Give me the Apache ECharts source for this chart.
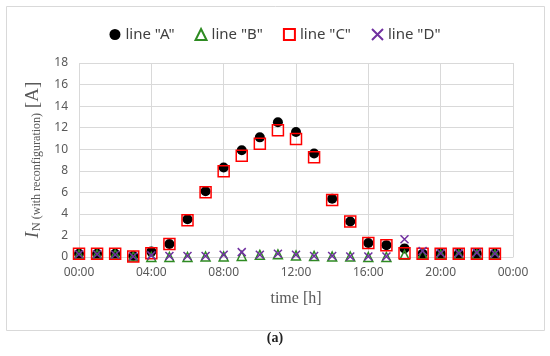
<!DOCTYPE html>
<html>
<head>
<meta charset="utf-8">
<script src="https://cdn.jsdelivr.net/npm/echarts@6/dist/echarts.min.js"></script>
<style>html,body{margin:0;padding:0;background:#fff}#c{width:550px;height:356px}</style>
</head>
<body>
<div id="c"></div>
<script>
var hours = [0,1,2,3,4,5,6,7,8,9,10,11,12,13,14,15,16,17,18,19,20,21,22,23];
var lineA = [0.3,0.3,0.3,0.1,0.5,1.2,3.5,6.1,8.3,9.9,11.1,12.5,11.6,9.6,5.4,3.3,1.3,1.1,0.8,0.3,0.3,0.3,0.3,0.3];
var lineB = [0.25,0.25,0.25,0.05,0.0,0.0,0.0,0.05,0.05,0.1,0.2,0.25,0.15,0.1,0.05,0.05,0.0,0.0,0.2,0.25,0.25,0.25,0.25,0.25];
var lineC = [0.3,0.3,0.3,0.05,0.35,1.2,3.4,6.0,7.95,9.4,10.5,11.75,10.95,9.25,5.3,3.3,1.3,1.1,0.35,0.3,0.3,0.3,0.3,0.3];
var lineD = [0.25,0.25,0.2,0.05,0.15,0.1,0.1,0.1,0.2,0.45,0.2,0.3,0.2,0.1,0.1,0.05,0.05,0.05,1.65,0.55,0.35,0.35,0.4,0.3];
var seriesNames = ['line "A"','line "B"','line "C"','line "D"'];
var xTicks = [0,4,8,12,16,20,24];
var yMax = 18, yStep = 2;

function pairs(vals){ return hours.map(function(h,i){ return [h, vals[i]]; }); }
var crossPath = 'path://M0,0L10,10M10,0L0,10';
var gray = '#595959', gridCol = '#d9d9d9';

var chart = echarts.init(document.getElementById('c'), null, {renderer:'canvas'});
chart.setOption({
  animation: false,
  backgroundColor: '#fff',
  graphic: [
    {type:'rect', shape:{x:6.5,y:6.5,width:538,height:324}, style:{fill:'none', stroke:gridCol, lineWidth:1}, z:-1},
    {type:'text', left:'center', top:331, style:{text:'(a)', font:'bold 14px "Liberation Serif", serif', fill:'#222'}}
  ],
  legend: {
    top: 22, left: 'center',
    itemWidth: 11, itemHeight: 11, itemGap: 20,
    textStyle: {color: '#404040', fontSize: 15, fontFamily: 'Noto Sans'},
    data: seriesNames
  },
  grid: {left: 79, right: 37, top: 63, bottom: 99},
  xAxis: {
    type: 'value', min: 0, max: 24, interval: 4,
    axisLine: {show: true, lineStyle: {color: gridCol}},
    axisTick: {show: false},
    splitLine: {show: true, lineStyle: {color: gridCol}},
    axisLabel: {color: gray, fontSize: 12, fontFamily: 'Noto Sans', margin: 10,
      formatter: function(v){ var h = v % 24; return (h < 10 ? '0' : '') + h + ':00'; }},
    name: 'time [h]', nameLocation: 'middle', nameGap: 34,
    nameTextStyle: {color: gray, fontSize: 16, fontFamily: '"Liberation Serif", serif'}
  },
  yAxis: {
    type: 'value', min: 0, max: yMax, interval: yStep,
    axisLine: {show: false}, axisTick: {show: false},
    splitLine: {show: true, lineStyle: {color: gridCol}},
    axisLabel: {color: gray, fontSize: 12, fontFamily: 'Noto Sans', margin: 11},
    name: '{i|I}{sub|N (with reconfiguration)}{a| [A]}',
    nameLocation: 'middle', nameGap: 36, nameRotate: 90,
    nameTextStyle: {
      color: gray,
      rich: {
        i: {fontSize: 19, fontStyle: 'italic', fontFamily: '"Liberation Serif", serif', color: gray},
        sub: {fontSize: 12, fontFamily: '"Liberation Serif", serif', color: gray, padding: [8,0,0,1]},
        a: {fontSize: 19, fontFamily: '"Liberation Serif", serif', color: gray}
      }
    }
  },
  series: [
    {name: seriesNames[0], type: 'scatter', data: pairs(lineA), symbol: 'circle', symbolSize: 10,
     itemStyle: {color: '#000', opacity: 1}},
    {name: seriesNames[1], type: 'scatter', data: pairs(lineB), symbol: 'triangle', symbolSize: 9,
     itemStyle: {color: 'rgba(0,0,0,0)', borderColor: '#2e8b22', borderWidth: 1.5, opacity: 1}},
    {name: seriesNames[2], type: 'scatter', data: pairs(lineC), symbol: 'rect', symbolSize: 11,
     itemStyle: {color: 'rgba(0,0,0,0)', borderColor: '#ff0000', borderWidth: 1.5, opacity: 1}},
    {name: seriesNames[3], type: 'scatter', data: pairs(lineD), symbol: crossPath, symbolSize: 8,
     itemStyle: {color: 'rgba(0,0,0,0)', borderColor: '#7030a0', borderWidth: 1.5, opacity: 1}}
  ]
});
</script>
</body>
</html>
